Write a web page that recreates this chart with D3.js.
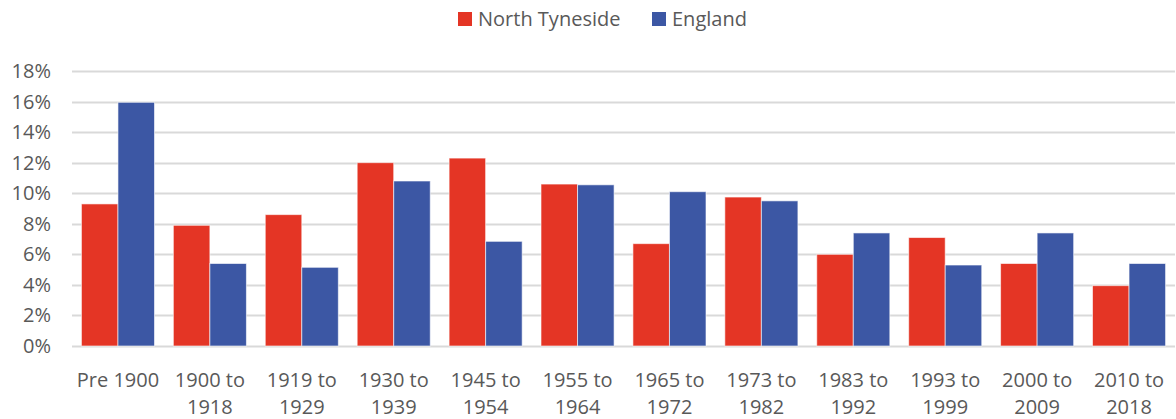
<!DOCTYPE html>
<html>
<head>
<meta charset="utf-8">
<script src="https://cdn.jsdelivr.net/npm/d3@7"></script>
<style>
  body { margin: 0; background: #fff; }
  text { font-family: "Open Sans", sans-serif; fill: #595959; }
</style>
</head>
<body>
<div id="chart"></div>
<script>
var categories = ['Pre 1900', '1900 to 1918', '1919 to 1929', '1930 to 1939', '1945 to 1954', '1955 to 1964',
    '1965 to 1972', '1973 to 1982', '1983 to 1992', '1993 to 1999', '2000 to 2009', '2010 to 2018'];
var seriesNames = ['North Tyneside', 'England'];
var northTyneside = [9.3, 7.9, 8.6, 12.0, 12.3, 10.6, 6.7, 9.75, 6.0, 7.1, 5.4, 3.95];
var england = [15.95, 5.4, 5.15, 10.8, 6.85, 10.55, 10.1, 9.5, 7.4, 5.3, 7.4, 5.4];
var yTicks = [0, 2, 4, 6, 8, 10, 12, 14, 16, 18];

var width = 1176;
var height = 419;
var fontSize = '20px';
var color = d3.scaleOrdinal().domain(seriesNames).range(['#E43525', '#3C57A4']);

var svg = d3.select('#chart')
    .append('svg')
    .attr('width', width)
    .attr('height', height);

var x0 = d3.scaleBand()
    .domain(categories)
    .range([72, 1175])
    .paddingInner(0.205)
    .paddingOuter(0.1025);

var x1 = d3.scaleBand()
    .domain(seriesNames)
    .range([0, x0.bandwidth()]);

var y = d3.scaleLinear()
    .domain([0, 18])
    .range([346, 71]);

// gridlines
svg.append('g')
    .selectAll('line')
    .data(yTicks)
    .enter()
    .append('line')
    .attr('x1', 72)
    .attr('x2', 1175)
    .attr('y1', function (d) { return Math.round(y(d)) + 0.5; })
    .attr('y2', function (d) { return Math.round(y(d)) + 0.5; })
    .attr('stroke', '#D9D9D9')
    .attr('stroke-width', 2);

// y labels
svg.append('g')
    .selectAll('text')
    .data(yTicks)
    .enter()
    .append('text')
    .attr('x', 51)
    .attr('y', function (d) { return y(d) + 7; })
    .attr('text-anchor', 'end')
    .style('font-size', fontSize)
    .text(function (d) { return d + '%'; });

var rows = categories.map(function (c, i) {
    return { cat: c, values: [northTyneside[i], england[i]] };
});

var groups = svg.selectAll('.grp')
    .data(rows)
    .enter()
    .append('g')
    .attr('class', 'grp')
    .attr('transform', function (d) { return 'translate(' + x0(d.cat) + ',0)'; });

groups.selectAll('rect')
    .data(function (d) {
        return seriesNames.map(function (s, j) { return { name: s, value: d.values[j] }; });
    })
    .enter()
    .append('rect')
    .attr('x', function (d) { return x1(d.name); })
    .attr('y', function (d) { return y(d.value); })
    .attr('width', x1.bandwidth())
    .attr('height', function (d) { return y(0) - y(d.value); })
    .attr('fill', function (d) { return color(d.name); })
    .attr('stroke', '#fff')
    .attr('stroke-opacity', 0.6)
    .attr('stroke-width', 1);

// x labels, wrapped on " to "
var xl = svg.append('g')
    .selectAll('text')
    .data(categories)
    .enter()
    .append('text')
    .attr('text-anchor', 'middle')
    .style('font-size', fontSize)
    .attr('transform', function (d) { return 'translate(' + (x0(d) + x0.bandwidth() / 2) + ',387)'; });

xl.each(function (d) {
    var parts = d.indexOf(' to ') > 0 ? [d.split(' to ')[0] + ' to', d.split(' to ')[1]] : [d];
    var t = d3.select(this);
    parts.forEach(function (p, i) {
        t.append('tspan').attr('x', 0).attr('dy', i === 0 ? 0 : 27).text(p);
    });
});

// legend
var legendX = [458, 652];
var legend = svg.selectAll('.legend')
    .data(seriesNames)
    .enter()
    .append('g')
    .attr('class', 'legend')
    .attr('transform', function (d, i) { return 'translate(' + legendX[i] + ',12)'; });

legend.append('rect')
    .attr('width', 14)
    .attr('height', 14)
    .attr('fill', color);

legend.append('text')
    .attr('x', 20)
    .attr('y', 14)
    .style('font-size', fontSize)
    .text(function (d) { return d; });
</script>
</body>
</html>
